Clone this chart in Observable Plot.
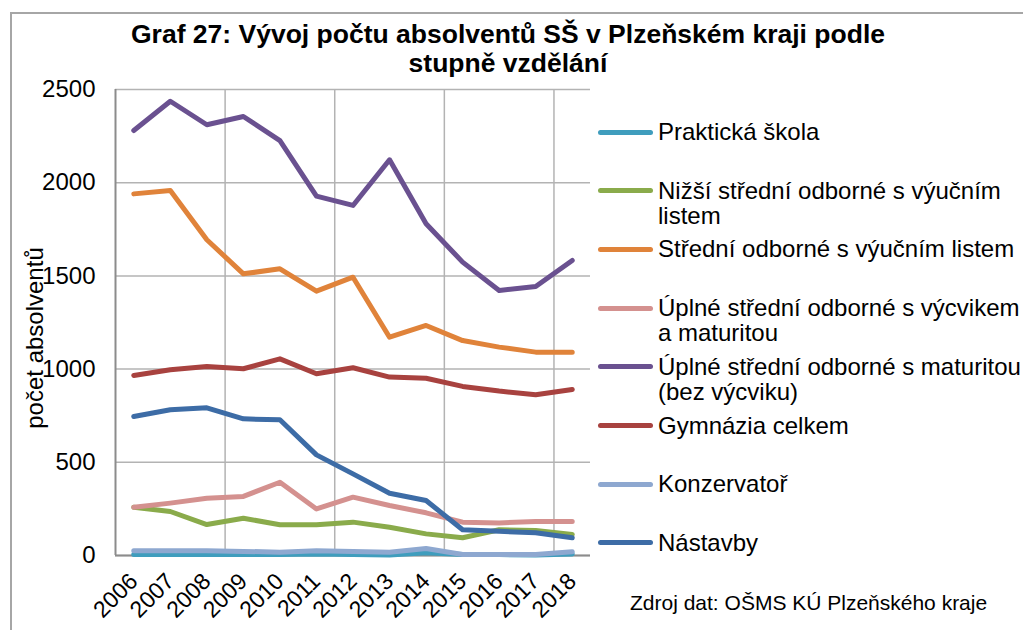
<!DOCTYPE html>
<html>
<head>
<meta charset="utf-8">
<script src="https://cdn.jsdelivr.net/npm/d3@7"></script>
<script src="https://cdn.jsdelivr.net/npm/@observablehq/plot@0.6"></script>
<style>
  html, body { margin: 0; padding: 0; background: #fff; }
  body { width: 1023px; height: 630px; overflow: hidden; position: relative; font-family: "Liberation Sans", Arial, sans-serif; color: #000; }
  #frame { position: absolute; left: 10px; top: 12px; width: 1200px; height: 800px; border-left: 2px solid #a6a6a6; border-top: 2px solid #a6a6a6; }
  #title { position: absolute; left: 0; top: 20px; width: 1016px; text-align: center; font-weight: bold; font-size: 26.5px; line-height: 29px; }
  #chart { position: absolute; left: 0; top: 80px; }
  #ylabel { position: absolute; left: 35px; top: 338px; transform: translate(-50%, -50%) rotate(-90deg); font-size: 24px; white-space: nowrap; }
  .leg-sw { position: absolute; left: 598px; width: 55px; height: 5px; border-radius: 3px; }
  .leg-tx { position: absolute; left: 658px; width: 368px; font-size: 24px; line-height: 25px; }
  #source { position: absolute; left: 630px; top: 591px; font-size: 21px; line-height: 24px; white-space: nowrap; }
</style>
</head>
<body>
<div id="frame"></div>
<div id="title">Graf 27: Vývoj počtu absolventů SŠ v Plzeňském kraji podle<br>stupně vzdělání</div>
<div id="chart"></div>
<div id="ylabel">počet absolventů</div>
<div id="legend"></div>
<div id="source">Zdroj dat: OŠMS KÚ Plzeňského kraje</div>
<script>
const years = ["2006","2007","2008","2009","2010","2011","2012","2013","2014","2015","2016","2017","2018"];
const yTicks = [0, 500, 1000, 1500, 2000, 2500];

const prakticka      = [5, 5, 5, 5, 5, 8, 5, 3, 15, 5, 5, 3, 8];
const nizsi          = [259, 236, 166, 200, 165, 165, 179, 152, 116, 95, 138, 134, 113];
const stredni        = [1940, 1958, 1694, 1511, 1538, 1418, 1493, 1171, 1234, 1153, 1118, 1091, 1091];
const uplneVycvik    = [259, 281, 307, 317, 393, 250, 313, 268, 229, 179, 175, 182, 182];
const uplneMaturita  = [2280, 2437, 2311, 2355, 2226, 1928, 1878, 2123, 1780, 1574, 1422, 1443, 1583];
const gymnazia       = [966, 996, 1014, 1002, 1055, 975, 1007, 957, 951, 907, 882, 862, 891];
const konzervator    = [25, 25, 25, 22, 18, 25, 22, 18, 38, 5, 5, 5, 20];
const nastavby       = [746, 782, 792, 733, 728, 540, 438, 334, 295, 138, 130, 122, 95];

const seriesNames = [
  "Praktická škola",
  "Nižší střední odborné s výučním listem",
  "Střední odborné s výučním listem",
  "Úplné střední odborné s výcvikem a maturitou",
  "Úplné střední odborné s maturitou (bez výcviku)",
  "Gymnázia celkem",
  "Konzervatoř",
  "Nástavby"
];
const seriesColors = ["#3f9dbd", "#8aab4b", "#e0833a", "#d4918f", "#6a5190", "#a8423f", "#8ea8d0", "#3d6ca6"];
const seriesValues = [prakticka, nizsi, stredni, uplneVycvik, uplneMaturita, gymnazia, konzervator, nastavby];

const data = seriesNames.flatMap((name, s) => years.map((year, i) => ({name, i, year, value: seriesValues[s][i]})));
const idx = years.map((_, i) => i);
// vertical gridlines at category boundaries every 3 categories
const vGrid = idx.filter(i => i % 3 === 2 && i < years.length - 1).map(i => i + 0.5);

const chart = Plot.plot({
  width: 1023,
  height: 550,
  marginTop: 9,
  marginBottom: 75,
  marginLeft: 115,
  marginRight: 433,
  style: {fontFamily: "'Liberation Sans', Arial, sans-serif", fontSize: "23px", color: "#000", background: "transparent", overflow: "visible"},
  x: {type: "linear", domain: [-0.5, years.length - 0.5]},
  y: {domain: [0, 2500]},
  color: {domain: seriesNames, range: seriesColors},
  marks: [
    Plot.gridY(yTicks, {stroke: "#b3b3b3", strokeOpacity: 1, strokeWidth: 1.5}),
    Plot.ruleX(vGrid, {stroke: "#b3b3b3", strokeWidth: 1.5}),
    Plot.axisY(yTicks, {tickSize: 0, tickPadding: 20, tickFormat: d => String(d), label: null, fontSize: 24}),
    Plot.axisX(idx, {tickFormat: i => years[i], tickRotate: -45, tickSize: 0, tickPadding: 22, label: null, fontSize: 23}),
    Plot.ruleX([-0.5], {stroke: "#8c8c8c", strokeWidth: 2}),
    Plot.ruleY([0], {stroke: "#8c8c8c", strokeWidth: 2}),
    Plot.line(data, {x: "i", y: "value", z: "name", stroke: "name", strokeWidth: 5, strokeLinecap: "round", strokeLinejoin: "round"})
  ]
});
document.getElementById("chart").appendChild(chart);

const legend = document.getElementById("legend");
seriesNames.forEach((name, k) => {
  const cy = 132 + k * 58.7;
  const sw = document.createElement("div");
  sw.className = "leg-sw";
  sw.style.top = (cy - 2.5) + "px";
  sw.style.background = seriesColors[k];
  legend.appendChild(sw);
  const tx = document.createElement("div");
  tx.className = "leg-tx";
  tx.style.top = (cy - 13) + "px";
  tx.textContent = name;
  legend.appendChild(tx);
});
</script>
</body>
</html>
